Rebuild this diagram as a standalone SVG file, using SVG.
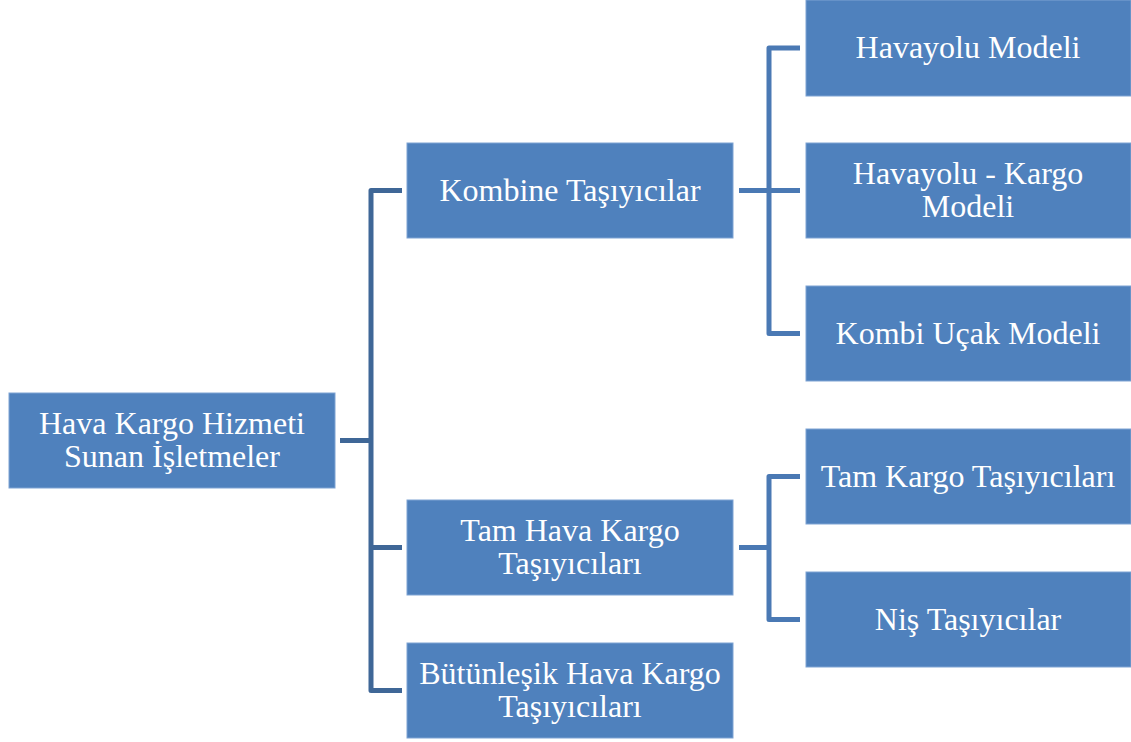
<svg xmlns="http://www.w3.org/2000/svg" width="1131" height="742" viewBox="0 0 1131 742">
  <style>
    .box { fill: #4f81bd; stroke: #7ea3d3; stroke-width: 1; }
    .lbl { font-family: "Liberation Serif", "Times New Roman", serif; font-size: 32px; fill: #ffffff; text-anchor: middle; }
    .l1 { fill: none; stroke: #3f6797; stroke-width: 5; stroke-linejoin: round; }
    .l2 { fill: none; stroke: #4a79b4; stroke-width: 5; stroke-linejoin: round; }
  </style>
  <rect width="1131" height="742" fill="#ffffff"/>

  <g id="connectors">
    <path class="l1" d="M340,440.5 H371 M402,190.5 H371 V690.5 H402 M371,547.5 H402"/>
    <path class="l2" d="M739,190.5 H769 M800,48 H769 V333.5 H800 M769,190.5 H800"/>
    <path class="l2" d="M739,547.5 H769 M800,476.5 H769 V619.5 H800"/>
  </g>

  <g id="root">
    <rect class="box" x="9" y="393" width="326" height="95"/>
    <text class="lbl" x="172" y="434">Hava Kargo Hizmeti</text>
    <text class="lbl" x="172" y="467">Sunan İşletmeler</text>
  </g>

  <g id="kombine">
    <rect class="box" x="407" y="143" width="326" height="95"/>
    <text class="lbl" x="570" y="201">Kombine Taşıyıcılar</text>
  </g>

  <g id="tam-hava">
    <rect class="box" x="407" y="500" width="326" height="95"/>
    <text class="lbl" x="570" y="541">Tam Hava Kargo</text>
    <text class="lbl" x="570" y="574">Taşıyıcıları</text>
  </g>

  <g id="butunlesik">
    <rect class="box" x="407" y="643" width="326" height="95"/>
    <text class="lbl" x="570" y="684">Bütünleşik Hava Kargo</text>
    <text class="lbl" x="570" y="717">Taşıyıcıları</text>
  </g>

  <g id="havayolu">
    <rect class="box" x="806" y="0" width="325" height="96"/>
    <text class="lbl" x="968" y="58">Havayolu Modeli</text>
  </g>

  <g id="havayolu-kargo">
    <rect class="box" x="806" y="143" width="325" height="95"/>
    <text class="lbl" x="968" y="184">Havayolu - Kargo</text>
    <text class="lbl" x="968" y="217">Modeli</text>
  </g>

  <g id="kombi-ucak">
    <rect class="box" x="806" y="286" width="325" height="95"/>
    <text class="lbl" x="968" y="344">Kombi Uçak Modeli</text>
  </g>

  <g id="tam-kargo">
    <rect class="box" x="806" y="429" width="325" height="95"/>
    <text class="lbl" x="968" y="487">Tam Kargo Taşıyıcıları</text>
  </g>

  <g id="nis">
    <rect class="box" x="806" y="572" width="325" height="95"/>
    <text class="lbl" x="968" y="630">Niş Taşıyıcılar</text>
  </g>
</svg>
